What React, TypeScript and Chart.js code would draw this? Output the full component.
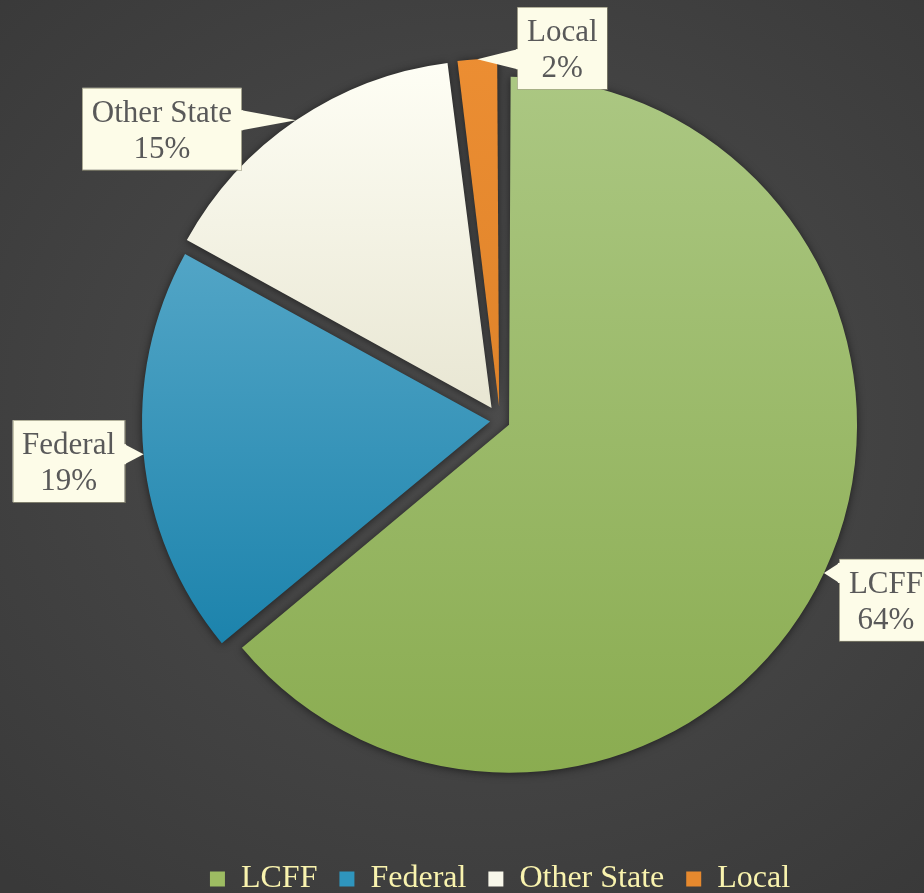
import React, { useEffect, useRef } from 'react';
import { Chart, registerables } from 'chart.js';

Chart.register(...registerables);

// ---- data ----
const categories = ['LCFF', 'Federal', 'Other State', 'Local'];
const shares = [64, 19, 15, 2];

// ---- styles ----
const topColors = ['#ABC782', '#52A5C6', '#FFFFF6', '#EC8E33'];
const bottomColors = ['#8AAC50', '#1C83AC', '#E9E7D4', '#E0842A'];
const legendColors = ['#9DBC62', '#2F95BD', '#F8F7EA', '#E6892E'];
const explodePx = [10, 10, 15, 14];
const calloutShift = [
  [62, 27],
  [-75, 7],
  [-134, 8.5],
  [85, -11],
];
const RADIUS = 348;
const SERIF = "'Liberation Serif', 'Times New Roman', Times, serif";
const legendTextColor = '#F9F3AE';
const labelTextColor = '#595959';
const labelFill = '#FDFCE8';

const total = shares.reduce((a, b) => a + b, 0);

function sectorAngles(i: number) {
  let cum = 0;
  for (let k = 0; k < i; k++) cum += shares[k];
  const a0 = -Math.PI / 2 + (cum / total) * Math.PI * 2;
  const a1 = a0 + (shares[i] / total) * Math.PI * 2;
  return [a0, a1];
}

function sliceFill(context: any) {
  const chart = context.chart;
  const i = context.dataIndex ?? 0;
  const area = chart.chartArea;
  if (!area) return legendColors[i];
  const cy = (area.top + area.bottom) / 2;
  const [a0, a1] = sectorAngles(i);
  const mid = (a0 + a1) / 2;
  const ys = [0, Math.sin(a0), Math.sin(a1)];
  if (a0 <= Math.PI / 2 && a1 >= Math.PI / 2) ys.push(1);
  const yMin = Math.min(...ys);
  const yMax = Math.max(...ys);
  const sh = explodePx[i] * Math.sin(mid);
  const g = chart.ctx.createLinearGradient(0, cy + sh + yMin * RADIUS, 0, cy + sh + yMax * RADIUS);
  g.addColorStop(0, topColors[i]);
  g.addColorStop(1, bottomColors[i]);
  return g;
}

const piePlugin = {
  id: 'pieDecor',
  afterDatasetsUpdate(chart: any) {
    const arcs = chart.getDatasetMeta(0).data;
    arcs.forEach((arc: any) => {
      const off = (arc.options.offset || 0) / 4;
      const fix = 1 - Math.sin(Math.min(Math.PI, arc.circumference || 0));
      arc.outerRadius = RADIUS - off * fix;
    });
  },
  beforeDatasetsDraw(chart: any) {
    const ctx = chart.ctx;
    ctx.save();
    ctx.shadowColor = 'rgba(0,0,0,0.55)';
    ctx.shadowBlur = 9;
    ctx.shadowOffsetX = 0;
    ctx.shadowOffsetY = 1;
  },
  afterDatasetsDraw(chart: any) {
    const ctx = chart.ctx;
    ctx.restore();
    const arcs = chart.getDatasetMeta(0).data;
    ctx.save();
    ctx.font = `31px ${SERIF}`;
    arcs.forEach((arc: any, i: number) => {
      const mid = (arc.startAngle + arc.endAngle) / 2;
      const off = (arc.options.offset || 0) / 4;
      const tipX = arc.x + Math.cos(mid) * (RADIUS + off);
      const tipY = arc.y + Math.sin(mid) * (RADIUS + off);
      const line1 = categories[i];
      const line2 = Math.round((shares[i] / total) * 100) + '%';
      const w = Math.max(ctx.measureText(line1).width, ctx.measureText(line2).width) + 19;
      const h = 82;
      const cx = tipX + calloutShift[i][0];
      const cyy = tipY + calloutShift[i][1];
      const left = cx - w / 2;
      const top = cyy - h / 2;
      const edgeX = tipX < left ? left : left + w;
      const b0 = Math.max(top + 2, Math.min(top + h - 22, tipY - 10));
      const b1 = b0 + 20;
      // box
      ctx.fillStyle = labelFill;
      ctx.fillRect(left, top, w, h);
      ctx.strokeStyle = 'rgba(150,148,120,0.55)';
      ctx.lineWidth = 1;
      ctx.strokeRect(Math.round(left) + 0.5, Math.round(top) + 0.5, Math.round(w), Math.round(h));
      // pointer
      ctx.beginPath();
      ctx.moveTo(tipX, tipY);
      ctx.lineTo(edgeX, b0);
      ctx.lineTo(edgeX, b1);
      ctx.closePath();
      ctx.fillStyle = labelFill;
      ctx.fill();
      ctx.fillRect(edgeX - 1.5, b0, 3, b1 - b0);
      // text
      ctx.fillStyle = labelTextColor;
      ctx.textAlign = 'center';
      ctx.textBaseline = 'alphabetic';
      ctx.fillText(line1, cx, top + 34);
      ctx.fillText(line2, cx, top + 70);
    });
    ctx.restore();
  },
};

export default function App() {
  const ref = useRef<HTMLCanvasElement | null>(null);

  useEffect(() => {
    if (!ref.current) return;
    const chart = new Chart(ref.current, {
      type: 'pie',
      data: {
        labels: categories,
        datasets: [
          {
            data: shares,
            backgroundColor: sliceFill as any,
            borderWidth: 0,
            offset: explodePx.map((p) => p * 4),
          },
        ],
      },
      options: {
        responsive: false,
        animation: false,
        radius: RADIUS,
        layout: { padding: { left: 76, right: 0, top: 0, bottom: 0 } },
        plugins: {
          tooltip: { enabled: false },
          legend: {
            position: 'bottom',
            labels: {
              color: legendTextColor,
              font: { family: SERIF, size: 32 },
              boxWidth: 15,
              boxHeight: 15,
              padding: 22,
              generateLabels: () =>
                categories.map((c, i) => ({
                  text: c,
                  fillStyle: legendColors[i],
                  strokeStyle: legendColors[i],
                  lineWidth: 0,
                  hidden: false,
                  index: i,
                  fontColor: legendTextColor,
                })),
            },
          },
        },
      } as any,
      plugins: [piePlugin],
    });
    return () => chart.destroy();
  }, []);

  return (
    <div
      style={{
        position: 'fixed',
        left: 0,
        top: 0,
        width: 924,
        height: 893,
        overflow: 'hidden',
        background: 'radial-gradient(ellipse 75% 70% at 52% 47%, #4c4c4c 0%, #454545 45%, #393939 100%)',
      }}
    >
      <canvas ref={ref} width={924} height={905} style={{ display: 'block', width: 924, height: 905 }} />
    </div>
  );
}
